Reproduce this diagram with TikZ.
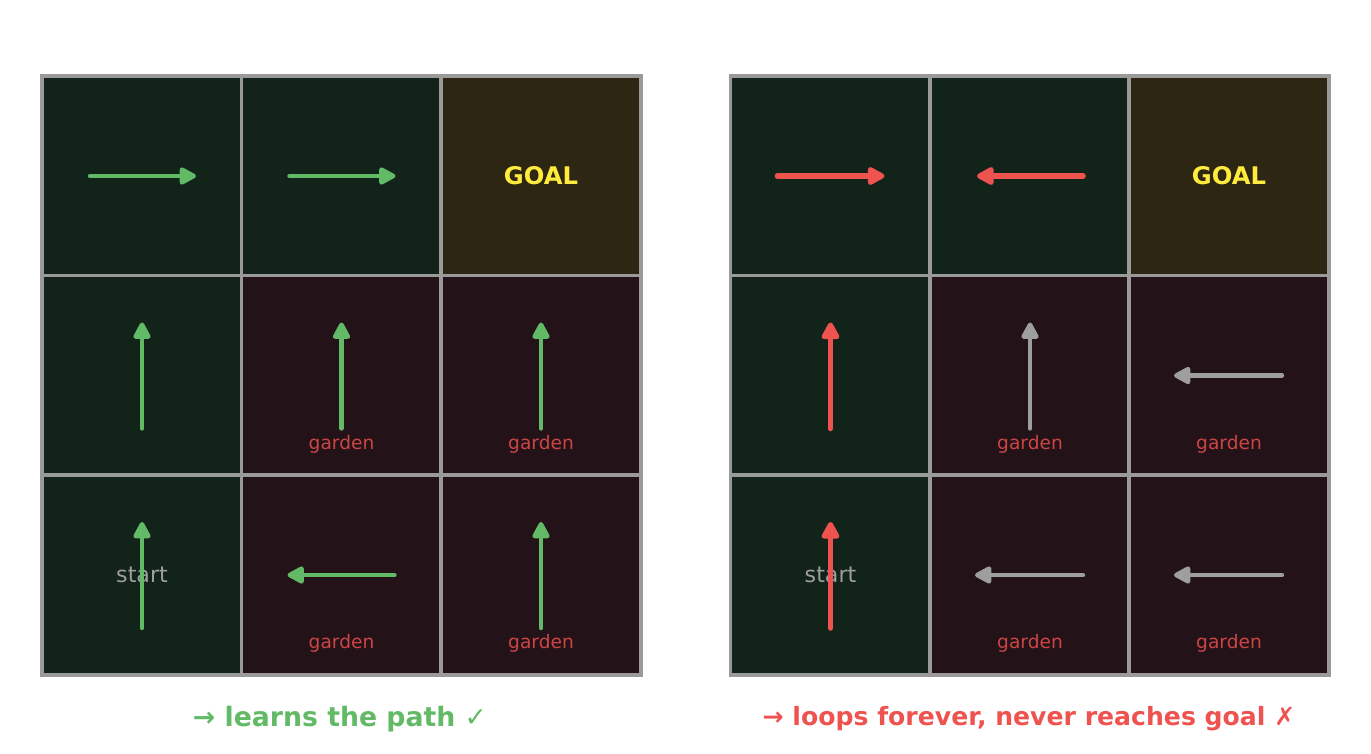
\documentclass[tikz,border=0pt]{standalone}
\usepackage{fontspec}
\setmainfont{DejaVu Sans}
\usetikzlibrary{arrows.meta}

\definecolor{cellgreen}{HTML}{12231A}
\definecolor{cellgoal}{HTML}{2D2613}
\definecolor{cellgarden}{HTML}{231217}
\definecolor{gridgray}{HTML}{9A9A9A}
\definecolor{okgreen}{HTML}{62BA66}
\definecolor{badred}{HTML}{EF5350}
\definecolor{idlegray}{HTML}{9E9E9E}
\definecolor{goalyellow}{HTML}{FFEB3B}
\definecolor{gardenred}{HTML}{CC4545}

\tikzset{
  cell/.style={draw=gridgray, line width=1pt, minimum size=2cm, inner sep=0pt, outer sep=0pt},
  safe/.style={cell, fill=cellgreen},
  goal/.style={cell, fill=cellgoal, text=goalyellow, font=\fontsize{6.9pt}{8pt}\selectfont\bfseries},
  garden/.style={cell, fill=cellgarden},
  gardentext/.style={text=gardenred, font=\fontsize{5.3pt}{6pt}\selectfont},
  starttext/.style={text=idlegray, font=\fontsize{6.3pt}{7pt}\selectfont},
  okarrow/.style={draw=okgreen, line width=1.25pt, line cap=round, -{Triangle[length=5.4pt, width=5.4pt, round]}},
  badarrow/.style={draw=badred, line width=1.6pt, line cap=round, -{Triangle[length=5.6pt, width=5.6pt, round]}},
  idlearrow/.style={draw=idlegray, line width=1.25pt, line cap=round, -{Triangle[length=5.4pt, width=5.4pt, round]}},
  caption/.style={font=\fontsize{7.3pt}{9pt}\selectfont\bfseries}
}

\begin{document}
\begin{tikzpicture}
  \useasboundingbox (0, 0) rectangle (13.71, -7.53);

  % left grid: the learned policy
  \node[safe] (a1) at (1.42, -1.76) {};
  \node[safe] (a2) at (3.415, -1.76) {};
  \node[goal] (a3) at (5.41, -1.76) {GOAL};
  \node[safe] (b1) at (1.42, -3.755) {};
  \node[garden] (b2) at (3.415, -3.755) {};
  \node[garden] (b3) at (5.41, -3.755) {};
  \node[safe] (c1) at (1.42, -5.75) {};
  \node[garden] (c2) at (3.415, -5.75) {};
  \node[garden] (c3) at (5.41, -5.75) {};

  \node[gardentext] (b2g) at ([yshift=-0.685cm]b2.center) {garden};
  \node[gardentext] (b3g) at ([yshift=-0.685cm]b3.center) {garden};
  \node[gardentext] (c2g) at ([yshift=-0.685cm]c2.center) {garden};
  \node[gardentext] (c3g) at ([yshift=-0.685cm]c3.center) {garden};
  \node[starttext] (c1s) at (c1.center) {start};

  \draw[okarrow] ([xshift=-0.52cm]a1.center) -- ([xshift=0.54cm]a1.center);
  \draw[okarrow] ([xshift=-0.52cm]a2.center) -- ([xshift=0.54cm]a2.center);
  \draw[okarrow] ([yshift=-0.53cm]b1.center) -- ([yshift=0.53cm]b1.center);
  \draw[okarrow] ([yshift=-0.53cm]b2.center) -- ([yshift=0.53cm]b2.center);
  \draw[okarrow] ([yshift=-0.53cm]b3.center) -- ([yshift=0.53cm]b3.center);
  \draw[okarrow] ([yshift=-0.53cm]c1.center) -- ([yshift=0.53cm]c1.center);
  \draw[okarrow] ([xshift=0.53cm]c2.center) -- ([xshift=-0.54cm]c2.center);
  \draw[okarrow] ([yshift=-0.53cm]c3.center) -- ([yshift=0.53cm]c3.center);

  % right grid: the looping policy
  \node[safe] (d1) at (8.305, -1.76) {};
  \node[safe] (d2) at (10.3, -1.76) {};
  \node[goal] (d3) at (12.29, -1.76) {GOAL};
  \node[safe] (e1) at (8.305, -3.755) {};
  \node[garden] (e2) at (10.3, -3.755) {};
  \node[garden] (e3) at (12.29, -3.755) {};
  \node[safe] (f1) at (8.305, -5.75) {};
  \node[garden] (f2) at (10.3, -5.75) {};
  \node[garden] (f3) at (12.29, -5.75) {};

  \node[gardentext] (e2g) at ([yshift=-0.685cm]e2.center) {garden};
  \node[gardentext] (e3g) at ([yshift=-0.685cm]e3.center) {garden};
  \node[gardentext] (f2g) at ([yshift=-0.685cm]f2.center) {garden};
  \node[gardentext] (f3g) at ([yshift=-0.685cm]f3.center) {garden};
  \node[starttext] (f1s) at (f1.center) {start};

  \draw[badarrow] ([xshift=-0.53cm]d1.center) -- ([xshift=0.54cm]d1.center);
  \draw[badarrow] ([xshift=0.53cm]d2.center) -- ([xshift=-0.53cm]d2.center);
  \draw[badarrow] ([yshift=-0.53cm]e1.center) -- ([yshift=0.53cm]e1.center);
  \draw[idlearrow] ([yshift=-0.53cm]e2.center) -- ([yshift=0.53cm]e2.center);
  \draw[idlearrow] ([xshift=0.53cm]e3.center) -- ([xshift=-0.55cm]e3.center);
  \draw[badarrow] ([yshift=-0.53cm]f1.center) -- ([yshift=0.53cm]f1.center);
  \draw[idlearrow] ([xshift=0.53cm]f2.center) -- ([xshift=-0.55cm]f2.center);
  \draw[idlearrow] ([xshift=0.53cm]f3.center) -- ([xshift=-0.55cm]f3.center);

  % verdicts
  \node[caption, text=okgreen, font=\fontsize{7.6pt}{9pt}\selectfont\bfseries] (okcap) at (3.40, -7.19) {→ learns the path ✓};
  \node[caption, text=badred, font=\fontsize{7.15pt}{9pt}\selectfont\bfseries] (badcap) at (10.29, -7.19) {→ loops forever, never reaches goal ✗};
\end{tikzpicture}
\end{document}
